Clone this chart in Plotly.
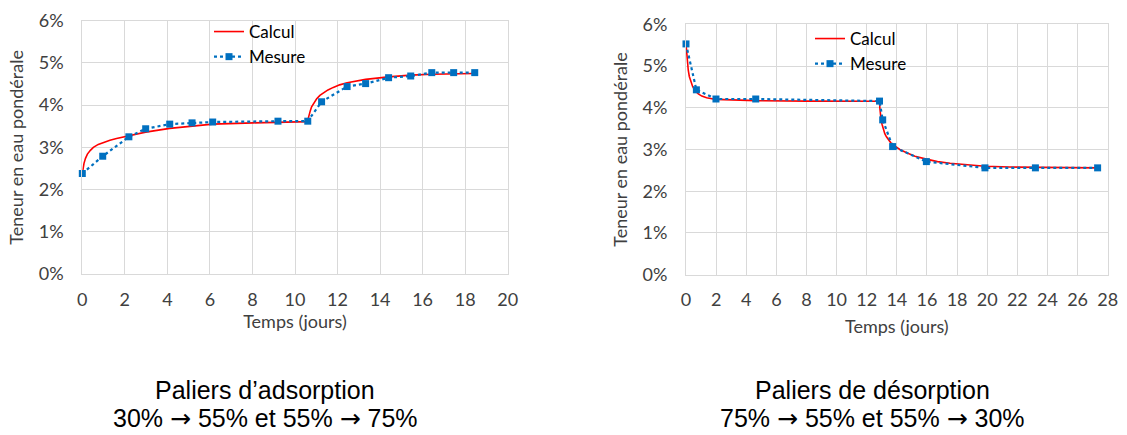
import plotly.graph_objects as go

# ---- Data: left chart (adsorption) ----
ads_mes_t = [0, 0.96, 2.19, 2.98, 4.11, 5.16, 6.13, 9.20, 10.6, 11.25, 12.45, 13.32, 14.40, 15.44, 16.43, 17.46, 18.45]
ads_mes_w = [2.38, 2.79, 3.25, 3.44, 3.55, 3.58, 3.60, 3.62, 3.62, 4.08, 4.44, 4.51, 4.65, 4.69, 4.77, 4.77, 4.77]

ads_calc_t = [0, 0.03, 0.08, 0.15, 0.24, 0.38, 0.52, 0.75, 0.99, 1.3, 1.61, 2.19, 2.98, 4.11, 5.16, 6.13, 8.04, 9.20, 10.6,
              10.63, 10.66, 10.72, 10.78, 10.9, 11.02, 11.17, 11.33, 11.55, 11.8, 12.1, 12.45, 12.85, 13.32, 14.4, 15.44, 16.43, 17.46, 18.45]
ads_calc_w = [2.38, 2.50, 2.62, 2.74, 2.84, 2.93, 3.00, 3.07, 3.12, 3.17, 3.21, 3.28, 3.36, 3.45, 3.51, 3.55, 3.58, 3.60, 3.61,
              3.70, 3.77, 3.87, 3.96, 4.07, 4.15, 4.23, 4.29, 4.36, 4.42, 4.48, 4.53, 4.57, 4.61, 4.67, 4.71, 4.73, 4.74, 4.75]

# ---- Data: right chart (desorption) ----
des_mes_t = [0, 0.69, 1.99, 4.63, 12.85, 13.06, 13.72, 15.96, 19.85, 23.2, 27.33]
des_mes_w = [5.53, 4.43, 4.21, 4.21, 4.16, 3.71, 3.07, 2.71, 2.56, 2.56, 2.56]

des_calc_t = [0, 0.04, 0.09, 0.15, 0.22, 0.32, 0.44, 0.6, 0.82, 1.05, 1.37, 1.99, 3.14, 4.63, 8.0, 12.85,
              12.87, 12.9, 12.95, 13.02, 13.1, 13.2, 13.3, 13.43, 13.6, 13.88, 14.2, 14.65, 15.2, 15.96, 16.7, 17.53, 18.6, 19.85, 21.5, 23.2, 25.3, 27.33]
des_calc_w = [5.53, 5.30, 5.06, 4.90, 4.75, 4.62, 4.51, 4.41, 4.33, 4.28, 4.24, 4.20, 4.18, 4.17, 4.16, 4.155,
              4.00, 3.87, 3.72, 3.60, 3.48, 3.38, 3.31, 3.23, 3.16, 3.08, 3.00, 2.92, 2.84, 2.77, 2.71, 2.67, 2.63, 2.60, 2.58, 2.57, 2.56, 2.56]

x_ticks_left = list(range(0, 21, 2))
x_ticks_right = list(range(0, 29, 2))
y_ticks = [0, 1, 2, 3, 4, 5, 6]
y_labels = ["0%", "1%", "2%", "3%", "4%", "5%", "6%"]

RED = "#FF0000"
BLUE = "#0070C0"
GRID = "#D9D9D9"
TXT = "#404040"
FONT = "Lato"

W, H = 1127, 435

fig = go.Figure()

fig.add_trace(go.Scatter(x=ads_calc_t, y=ads_calc_w, mode="lines", name="Calcul",
                         line=dict(color=RED, width=1.6), xaxis="x", yaxis="y", legend="legend"))
fig.add_trace(go.Scatter(x=ads_mes_t, y=ads_mes_w, mode="lines+markers", name="Mesure",
                         line=dict(color=BLUE, width=2.2, dash="dot"),
                         marker=dict(symbol="square", size=7, color=BLUE),
                         cliponaxis=False, xaxis="x", yaxis="y", legend="legend"))
fig.add_trace(go.Scatter(x=des_calc_t, y=des_calc_w, mode="lines", name="Calcul",
                         line=dict(color=RED, width=1.6), xaxis="x2", yaxis="y2", legend="legend2"))
fig.add_trace(go.Scatter(x=des_mes_t, y=des_mes_w, mode="lines+markers", name="Mesure",
                         line=dict(color=BLUE, width=2.2, dash="dot"),
                         marker=dict(symbol="square", size=7, color=BLUE),
                         cliponaxis=False, xaxis="x2", yaxis="y2", legend="legend2"))

def px_x(p):
    return p / W

def px_y(p):
    return 1 - p / H

axis_common = dict(showgrid=True, gridcolor=GRID, gridwidth=1, zeroline=False,
                   showline=True, linecolor=GRID, linewidth=1, mirror=True,
                   ticks="outside", tickcolor="rgba(0,0,0,0)", automargin=False,
                   tickfont=dict(family=FONT, size=18, color=TXT))

title_font_ax = dict(family=FONT, size=18, color=TXT)

fig.update_layout(
    width=W, height=H,
    margin=dict(l=0, r=0, t=0, b=0, autoexpand=False),
    paper_bgcolor="white", plot_bgcolor="white",
    font=dict(family=FONT, color=TXT),
    xaxis=dict(domain=[px_x(82.3), px_x(507.7)], range=[0, 20], tickvals=x_ticks_left, anchor="y",
               ticklen=9, title=dict(text="Temps (jours)", font=title_font_ax, standoff=5),
               **axis_common),
    yaxis=dict(domain=[px_y(274), px_y(20.7)], range=[0, 6], tickvals=y_ticks, ticktext=y_labels, anchor="x",
               ticklen=14, title=dict(text="Teneur en eau pondérale", font=title_font_ax, standoff=10),
               **axis_common),
    xaxis2=dict(domain=[px_x(686), px_x(1107.7)], range=[0, 28], tickvals=x_ticks_right, anchor="y2",
                ticklen=9, title=dict(text="Temps (jours)", font=title_font_ax, standoff=11),
                **axis_common),
    yaxis2=dict(domain=[px_y(274.7), px_y(24.3)], range=[0, 6], tickvals=y_ticks, ticktext=y_labels, anchor="x2",
                ticklen=14, title=dict(text="Teneur en eau pondérale", font=title_font_ax, standoff=10),
                **axis_common),
    legend=dict(x=px_x(209), y=px_y(14), xanchor="left", yanchor="top", bgcolor="rgba(0,0,0,0)",
                font=dict(family=FONT, size=17, color="#000000"), itemwidth=30, tracegroupgap=0),
    legend2=dict(x=px_x(810), y=px_y(21), xanchor="left", yanchor="top", bgcolor="rgba(0,0,0,0)",
                 font=dict(family=FONT, size=17, color="#000000"), itemwidth=30, tracegroupgap=0),
    showlegend=True,
)

ARROW = "<span style='font-family:DejaVu Sans'>→</span>"
title_font = dict(family="Liberation Sans", size=25, color="#000000")
fig.add_annotation(x=px_x(265), y=px_y(390), xref="paper", yref="paper", showarrow=False,
                   text="Paliers d’adsorption", font=title_font, xanchor="center", yanchor="middle")
fig.add_annotation(x=px_x(265), y=px_y(418), xref="paper", yref="paper", showarrow=False,
                   text=f"30% {ARROW} 55% et 55% {ARROW} 75%", font=title_font, xanchor="center", yanchor="middle")
fig.add_annotation(x=px_x(872), y=px_y(390), xref="paper", yref="paper", showarrow=False,
                   text="Paliers de désorption", font=title_font, xanchor="center", yanchor="middle")
fig.add_annotation(x=px_x(872), y=px_y(418), xref="paper", yref="paper", showarrow=False,
                   text=f"75% {ARROW} 55% et 55% {ARROW} 30%", font=title_font, xanchor="center", yanchor="middle")

fig.write_html("out.html", config={"displayModeBar": False},
               post_script="document.body.style.margin='0';document.body.style.overflow='hidden';")
